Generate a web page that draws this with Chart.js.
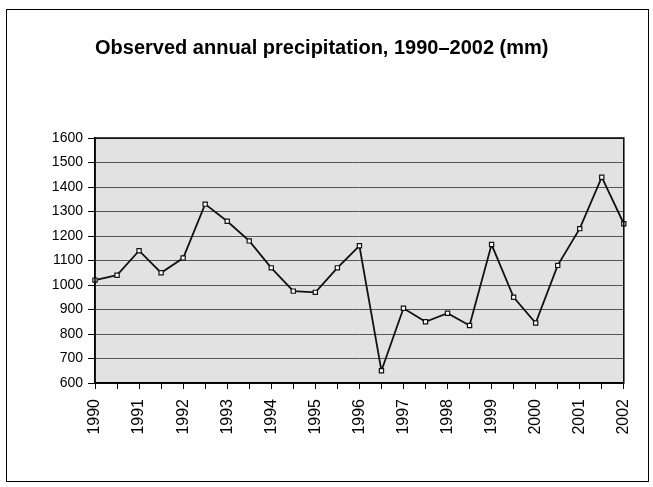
<!DOCTYPE html>
<html>
<head>
<meta charset="utf-8">
<script src="https://cdn.jsdelivr.net/npm/chart.js@4"></script>
<style>
  html, body { margin: 0; padding: 0; background: #fff; }
  #frame { position: absolute; left: 6px; top: 9px; width: 641px; height: 471px; border: 1px solid #000; }
  #wrap { position: absolute; left: 0; top: 0; width: 653px; height: 487px; }
</style>
</head>
<body>
<div id="frame"></div>
<div id="wrap"><canvas id="grafico" width="653" height="487"></canvas></div>
<script>
// half-year steps, labelled once per year
const categories = ['1990', '', '1991', '', '1992', '', '1993', '', '1994', '', '1995', '', '1996', '',
  '1997', '', '1998', '', '1999', '', '2000', '', '2001', '', '2002'];
const valores = [1020, 1040, 1140, 1050, 1110, 1330, 1260, 1180, 1070, 975, 970, 1070, 1160,
  650, 905, 850, 885, 835, 1165, 950, 845, 1080, 1230, 1440, 1250];
const yTicks = [600, 700, 800, 900, 1000, 1100, 1200, 1300, 1400, 1500, 1600];
const titulo = 'Observed annual precipitation, 1990–2002 (mm)';

const fondoPlot = {
  id: 'fondoPlot',
  beforeDraw(chart) {
    const { ctx, chartArea: a } = chart;
    ctx.save();
    ctx.fillStyle = '#e2e2e2';
    ctx.fillRect(a.left, a.top, a.right - a.left, a.bottom - a.top);
    ctx.restore();
  },
  afterDraw(chart) {
    const { ctx, chartArea: a } = chart;
    ctx.save();
    ctx.strokeStyle = '#000';
    ctx.lineWidth = 1.5;
    ctx.strokeRect(a.left, a.top, a.right - a.left, a.bottom - a.top);
    ctx.restore();
  }
};

const ctx = document.getElementById('grafico');
const chart = new Chart(ctx, {
  type: 'line',
  data: {
    labels: categories,
    datasets: [{
      data: valores,
      borderColor: '#111',
      backgroundColor: '#fff',
      borderWidth: 1.8,
      pointStyle: 'rect',
      pointRadius: 3,
      pointBorderColor: '#111',
      pointBorderWidth: 1.2,
      tension: 0
    }]
  },
  options: {
    responsive: false,
    animation: false,
    layout: { padding: { top: 8, right: 25, bottom: 4, left: 0 } },
    plugins: {
      legend: { display: false },
      tooltip: { enabled: false },
      title: {
        display: true,
        text: titulo,
        align: 'start',
        fullSize: false,
        color: '#000',
        font: { family: 'Liberation Sans, Arial, sans-serif', size: 20, weight: 'bold' },
        padding: { top: 28, bottom: 78 }
      }
    },
    scales: {
      x: {
        offset: false,
        grid: { drawOnChartArea: false, drawTicks: true, tickLength: 6, color: '#000' },
        border: { color: '#000', width: 1.5 },
        ticks: {
          autoSkip: false,
          maxRotation: 90,
          minRotation: 90,
          padding: 10,
          color: '#000',
          font: { family: 'Liberation Sans, Arial, sans-serif', size: 16 }
        },
        afterFit(scale) { scale.height = 100; }
      },
      y: {
        min: 600,
        max: 1600,
        afterBuildTicks(scale) { scale.ticks = yTicks.map(v => ({ value: v })); },
        grid: { color: '#555', lineWidth: 1, tickLength: 7, tickColor: '#000' },
        border: { color: '#000', width: 1.5 },
        ticks: {
          padding: 5,
          color: '#000',
          font: { family: 'Liberation Sans, Arial, sans-serif', size: 14 },
          callback: v => String(v)
        },
        afterFit(scale) { scale.width = 95; }
      }
    }
  },
  plugins: [fondoPlot]
});
</script>
</body>
</html>
